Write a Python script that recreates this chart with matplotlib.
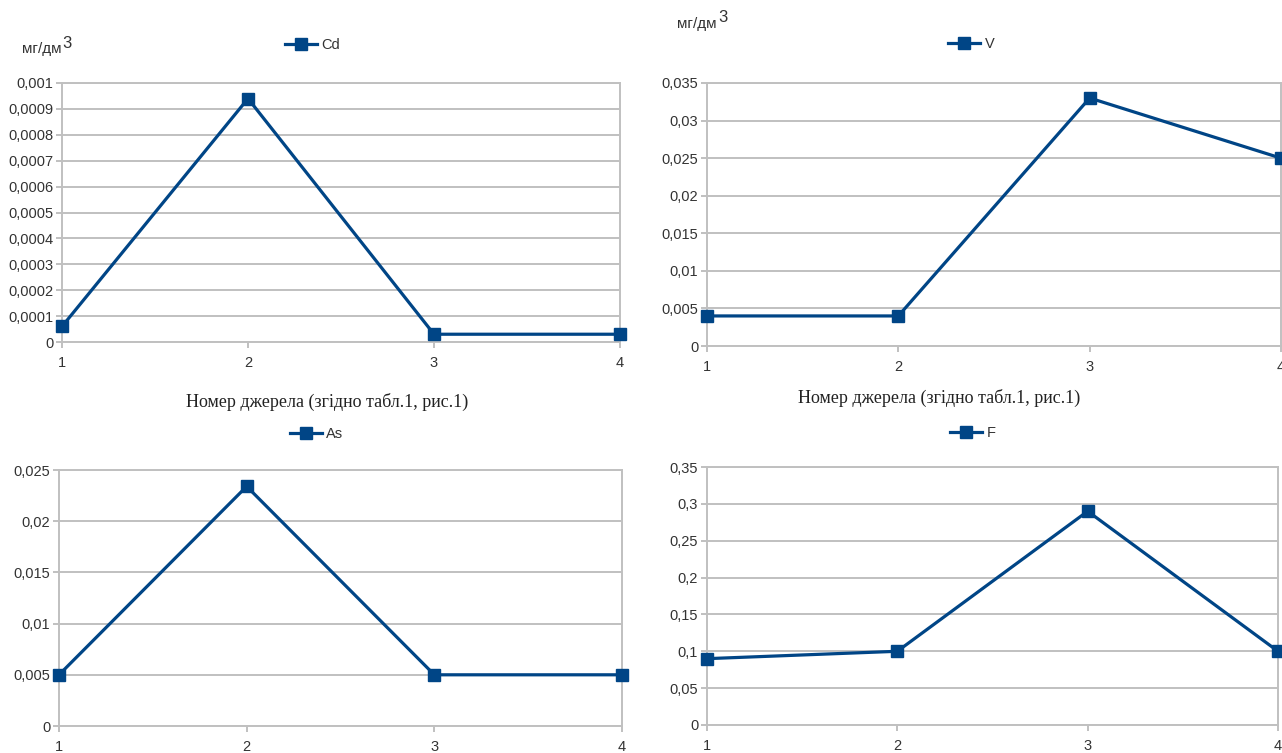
import matplotlib
matplotlib.use("Agg")
import matplotlib.pyplot as plt
from matplotlib.lines import Line2D

# ---- data ----
sources = [1, 2, 3, 4]
x_tick_labels = ["1", "2", "3", "4"]

cd_values = [0.00006, 0.00094, 0.00003, 0.00003]
v_values = [0.004, 0.004, 0.033, 0.025]
as_values = [0.005, 0.0234, 0.005, 0.005]
f_values = [0.09, 0.1, 0.29, 0.1]

cd_ticks = [0, 0.0001, 0.0002, 0.0003, 0.0004, 0.0005, 0.0006, 0.0007, 0.0008, 0.0009, 0.001]
cd_tick_labels = ["0", "0,0001", "0,0002", "0,0003", "0,0004", "0,0005", "0,0006",
                  "0,0007", "0,0008", "0,0009", "0,001"]
v_ticks = [0, 0.005, 0.01, 0.015, 0.02, 0.025, 0.03, 0.035]
v_tick_labels = ["0", "0,005", "0,01", "0,015", "0,02", "0,025", "0,03", "0,035"]
as_ticks = [0, 0.005, 0.01, 0.015, 0.02, 0.025]
as_tick_labels = ["0", "0,005", "0,01", "0,015", "0,02", "0,025"]
f_ticks = [0, 0.05, 0.1, 0.15, 0.2, 0.25, 0.3, 0.35]
f_tick_labels = ["0", "0,05", "0,1", "0,15", "0,2", "0,25", "0,3", "0,35"]

xlabel_text = "Номер джерела (згідно табл.1, рис.1)"
unit_text = "мг/дм"
unit_sup = "3"

# ---- style ----
W, H = 1282, 753
LINE_COLOR = "#004586"
GRID_COLOR = "#c0c0c0"
TEXT_COLOR = "#333333"
SANS = ["Liberation Sans", "DejaVu Sans"]
SERIF = ["Liberation Serif", "DejaVu Serif"]

plt.rcParams["font.family"] = SANS

fig = plt.figure(figsize=(W / 100, H / 100), dpi=100)
fig.patch.set_facecolor("white")


def px_axes(left, right, top, bottom):
    return fig.add_axes([left / W, 1 - bottom / H, (right - left) / W, (bottom - top) / H])


def style_axes(ax, yticks, ylabels, name, values, legend_xy):
    ax.plot(sources, values, color=LINE_COLOR, lw=2.3, marker="s", ms=9,
            markerfacecolor=LINE_COLOR, markeredgecolor=LINE_COLOR, label=name,
            clip_on=False, zorder=5)
    ax.set_xlim(sources[0], sources[-1])
    ax.set_ylim(yticks[0], yticks[-1])
    ax.set_xticks(sources)
    ax.set_xticklabels(x_tick_labels)
    ax.set_yticks(yticks)
    ax.set_yticklabels(ylabels)
    ax.grid(axis="y", color=GRID_COLOR, lw=1.4)
    ax.set_axisbelow(True)
    for s in ax.spines.values():
        s.set_color(GRID_COLOR)
        s.set_linewidth(1.4)
    ax.tick_params(axis="both", colors=GRID_COLOR, labelcolor=TEXT_COLOR,
                   length=4.3, width=1.4, labelsize=10.5, direction="out")
    ax.tick_params(axis="x", pad=6)
    ax.tick_params(axis="y", pad=2)
    handle = Line2D([], [], color=LINE_COLOR, lw=2.3, marker="s", ms=8.5,
                    markerfacecolor=LINE_COLOR)
    fig.legend([handle], [name], loc="center left",
               bbox_to_anchor=(legend_xy[0] / W, 1 - legend_xy[1] / H),
               frameon=False, fontsize=10.5, handlelength=2.2, handletextpad=0.3,
               borderpad=0, borderaxespad=0, labelcolor=TEXT_COLOR)


ax1 = px_axes(62, 620, 83, 342)
style_axes(ax1, cd_ticks, cd_tick_labels, "Cd", cd_values, (285, 45))

ax2 = px_axes(707, 1281, 83, 346)
style_axes(ax2, v_ticks, v_tick_labels, "V", v_values, (948, 44))

ax3 = px_axes(59, 622, 470, 726)
style_axes(ax3, as_ticks, as_tick_labels, "As", as_values, (290, 434))

ax4 = px_axes(707, 1278, 467, 725)
style_axes(ax4, f_ticks, f_tick_labels, "F", f_values, (950, 433))

# x axis titles
for cx, cy in [(327, 402), (939, 398)]:
    fig.text(cx / W, 1 - cy / H, xlabel_text, family=SERIF, fontsize=13,
             color="#222222", ha="center", va="center")

# units with superscript
for ux, ubase, sx, sbase in [(22, 53, 62, 48), (677, 28, 718, 22)]:
    fig.text(ux / W, 1 - ubase / H, unit_text, fontsize=11, color=TEXT_COLOR,
             ha="left", va="baseline")
    fig.text(sx / W, 1 - sbase / H, unit_sup, fontsize=12, color=TEXT_COLOR,
             ha="left", va="baseline")

fig.savefig("out.png", dpi=100, facecolor="white")
